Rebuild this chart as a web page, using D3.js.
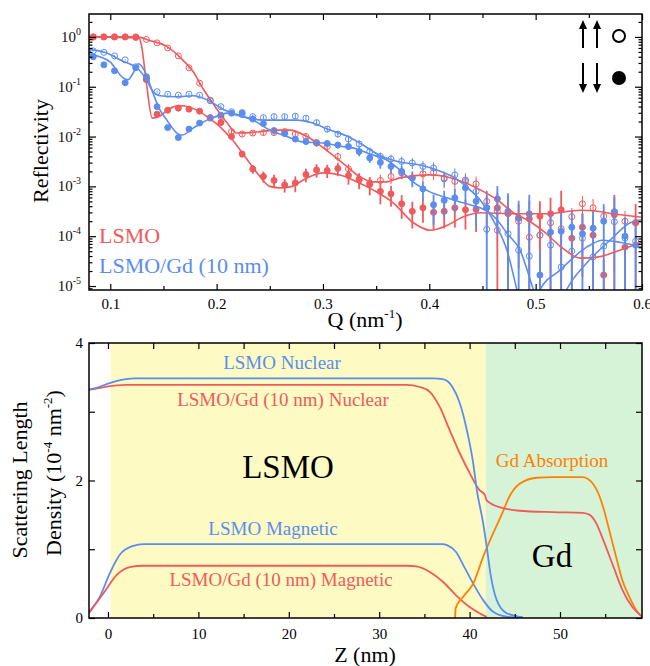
<!DOCTYPE html>
<html>
<head>
<meta charset="utf-8">
<script src="https://cdn.jsdelivr.net/npm/d3@7"></script>
<style>
  body { margin: 0; background: #fff; }
  text { font-family: "Liberation Serif", "DejaVu Serif", serif; }
</style>
</head>
<body>
<div id="chart"></div>
<script>
var font = '"Liberation Serif", "DejaVu Serif", serif';
var red = "#ef5a5c";
var blue = "#5b8def";
var orange = "#ff8000";

// Q of the measured points (nm^-1)
var q = [0.084, 0.094, 0.104, 0.114, 0.124, 0.134, 0.144, 0.154, 0.164, 0.174,
         0.184, 0.194, 0.204, 0.214, 0.224, 0.234, 0.244, 0.254, 0.264, 0.274,
         0.284, 0.294, 0.304, 0.314, 0.324, 0.334, 0.344, 0.354, 0.364, 0.374,
         0.384, 0.394, 0.404, 0.414, 0.424, 0.434, 0.444, 0.454, 0.464, 0.474,
         0.484, 0.494, 0.504, 0.514, 0.524, 0.534, 0.544, 0.554, 0.564, 0.574,
         0.584, 0.594];

// log10 of reflectivity. "up" = open circles, "down" = filled circles
var lsmoUp = [0, 0, 0, 0, 0, -0.05, -0.12, -0.22, -0.38, -0.62,
              -0.93, -1.28, -1.6, -1.9, -1.95, -1.93, -1.92, -1.92, -1.9, -1.95,
              -2.0, -2.12, -2.2, -2.4, -2.65, -2.85, -2.93, -2.88, -2.8, -2.73,
              -2.83, -2.75, -2.72, -2.83, -2.9, -2.87, -2.95, -3.3, -3.88, -3.55,
              -3.7, -4.02, -3.98, -3.73, -3.85, -3.61, -3.35, -3.43, -3.6, -3.51,
              -3.7, -3.73];
var lsmoDown = [0, 0, 0, 0, -0.01, -0.85, -1.55, -1.47, -1.43, -1.45,
                -1.49, -1.62, -1.72, -2.0, -2.35, -2.65, -2.8, -2.88, -2.97, -2.93,
                -2.76, -2.67, -2.68, -2.64, -2.78, -2.87, -2.96, -3.1, -3.15, -3.35,
                -3.5, -3.43, -3.52, -3.5, -3.43, -3.47, -3.46, -3.43, -3.43, -3.53,
                -3.64, -3.65, -3.6, -3.55, -3.47, -4.04, -3.82, -3.98, -4.78, -3.57,
                -4.22, -3.73];
var gdUp = [-0.28, -0.31, -0.38, -0.46, -0.6, -0.86, -1.1, -1.15, -1.17, -1.15,
            -1.17, -1.27, -1.4, -1.5, -1.56, -1.6, -1.62, -1.6, -1.6, -1.59,
            -1.63, -1.72, -1.85, -1.95, -2.05, -2.15, -2.3, -2.4, -2.45, -2.5,
            -2.53, -2.6, -2.63, -2.85, -2.77, -2.9, -3.1, -3.86, -3.5, -3.95,
            -4.28, -4.4, -3.98, -4.18, -4.62, -4.3, -4.04, -4.42, -4.2, -3.71,
            -4.04, -4.1];
var gdDown = [-0.4, -0.56, -0.68, -0.92, -0.62, -0.8, -1.4, -1.82, -2.02, -1.85,
              -1.73, -1.63, -1.57, -1.53, -1.52, -1.65, -1.74, -1.88, -1.94, -2.05,
              -2.1, -2.13, -2.14, -2.17, -2.2, -2.3, -2.43, -2.52, -2.6, -2.7,
              -2.83, -3.05, -3.37, -3.28, -3.23, -3.03, -3.3, -3.43, -3.25, -3.5,
              -3.63, -3.55, -4.78, -3.92, -3.9, -3.82, -3.95, -3.84, -3.7, -3.51,
              -4.0, -4.18];

// relative errors (sigma / R)
var lsmoUpErr = [0.03, 0.03, 0.03, 0.03, 0.03, 0.03, 0.04, 0.05, 0.06, 0.06,
                 0.08, 0.08, 0.1, 0.1, 0.12, 0.12, 0.12, 0.15, 0.15, 0.15,
                 0.15, 0.18, 0.2, 0.2, 0.25, 0.3, 0.3, 0.3, 0.3, 0.25,
                 0.3, 0.3, 0.3, 0.35, 0.35, 0.35, 0.4, 0.5, 0.7, 0.6,
                 0.6, 0.8, 0.7, 0.6, 0.7, 0.5, 0.45, 0.5, 0.5, 0.55,
                 0.6, 0.6];
var lsmoDownErr = [0.03, 0.03, 0.03, 0.03, 0.03, 0.05, 0.08, 0.08, 0.08, 0.08,
                   0.08, 0.1, 0.1, 0.12, 0.15, 0.2, 0.25, 0.3, 0.3, 0.35,
                   0.3, 0.3, 0.3, 0.3, 0.35, 0.35, 0.4, 0.45, 0.45, 0.5,
                   0.55, 0.5, 0.55, 0.55, 0.6, 0.6, 0.65, 0.7, 1.0, 1.2,
                   0.9, 1.3, 1.0, 1.1, 1.4, 1.0, 0.9, 1.3, 1.0, 1.5,
                   1.1, 1.4];
var gdUpErr = [0.03, 0.03, 0.03, 0.03, 0.03, 0.04, 0.05, 0.05, 0.05, 0.06,
               0.06, 0.08, 0.08, 0.08, 0.1, 0.1, 0.1, 0.12, 0.12, 0.12,
               0.12, 0.15, 0.15, 0.15, 0.18, 0.2, 0.2, 0.2, 0.22, 0.25,
               0.25, 0.28, 0.3, 0.35, 0.35, 0.4, 0.45, 1.1, 0.8, 1.2,
               1.3, 1.4, 1.0, 1.2, 1.5, 1.2, 1.0, 1.3, 1.2, 0.9,
               1.1, 1.1];
var gdDownErr = [0.03, 0.03, 0.03, 0.03, 0.03, 0.04, 0.06, 0.08, 0.1, 0.08,
                 0.08, 0.08, 0.08, 0.08, 0.08, 0.1, 0.1, 0.1, 0.12, 0.12,
                 0.12, 0.12, 0.15, 0.15, 0.15, 0.2, 0.2, 0.25, 0.25, 0.3,
                 0.35, 0.4, 0.6, 0.55, 0.5, 0.5, 0.7, 1.2, 0.8, 1.3,
                 1.2, 1.4, 2.0, 1.5, 1.3, 1.2, 1.5, 1.3, 1.2, 1.0,
                 1.4, 1.6];

// fitted curves [Q, log10 R]
var fitLsmoUp = [[0.08, 0], [0.125, 0], [0.137, -0.07], [0.153, -0.19], [0.168, -0.46],
  [0.178, -0.7], [0.187, -1.03], [0.197, -1.35], [0.21, -1.73], [0.219, -1.93],
  [0.238, -1.91], [0.257, -1.87], [0.269, -1.87], [0.285, -2.0], [0.297, -2.17],
  [0.309, -2.37], [0.323, -2.61], [0.335, -2.81], [0.347, -2.91], [0.36, -2.91],
  [0.372, -2.83], [0.4, -2.77], [0.417, -2.81], [0.432, -2.91], [0.448, -3.07],
  [0.464, -3.27], [0.479, -3.53], [0.495, -3.71], [0.509, -3.93], [0.523, -4.2],
  [0.542, -4.44], [0.558, -4.42], [0.579, -4.28], [0.6, -4.12]];
var fitLsmoDown = [[0.08, 0], [0.127, -0.02], [0.1295, -0.19], [0.134, -0.93], [0.1395, -1.63],
  [0.146, -1.6], [0.155, -1.45], [0.165, -1.38], [0.175, -1.41], [0.184, -1.5],
  [0.191, -1.6], [0.203, -1.8], [0.215, -2.07], [0.229, -2.47], [0.241, -2.81],
  [0.25, -3.0], [0.26, -3.03], [0.269, -3.01], [0.285, -2.83], [0.3, -2.73],
  [0.316, -2.77], [0.328, -2.87], [0.347, -3.07], [0.366, -3.33], [0.385, -3.73],
  [0.401, -3.88], [0.417, -3.78], [0.432, -3.61], [0.448, -3.53], [0.479, -3.55],
  [0.511, -3.55], [0.542, -3.48], [0.558, -3.5], [0.573, -3.55], [0.6, -3.62]];
var fitGdUp = [[0.08, -0.25], [0.096, -0.32], [0.111, -0.48], [0.127, -0.66], [0.134, -0.86],
  [0.139, -1.06], [0.147, -1.18], [0.163, -1.2], [0.178, -1.18], [0.191, -1.26],
  [0.206, -1.45], [0.221, -1.57], [0.2436, -1.67], [0.2756, -1.67], [0.2906, -1.73],
  [0.3066, -1.87], [0.3226, -1.99], [0.3376, -2.17], [0.3536, -2.38], [0.3724, -2.51],
  [0.3912, -2.57], [0.4072, -2.67], [0.4223, -2.81], [0.4383, -3.07], [0.4477, -3.27],
  [0.4542, -3.47], [0.4636, -3.82], [0.473, -4.28], [0.4824, -5.08], [0.493, -6],
  [0.504, -5.08], [0.523, -4.68], [0.548, -4.22], [0.563, -4.08], [0.579, -4.12], [0.6, -4.22]];
var fitGdDown = [[0.08, -0.34], [0.0997, -0.5], [0.112, -0.82], [0.1167, -0.86], [0.1214, -0.73],
  [0.1265, -0.54], [0.1327, -0.7], [0.1402, -1.13], [0.1468, -1.47], [0.1533, -1.67],
  [0.1627, -1.93], [0.1675, -1.97], [0.178, -1.83], [0.191, -1.67], [0.2032, -1.57],
  [0.21, -1.53], [0.2192, -1.57], [0.2342, -1.67], [0.25, -1.87], [0.266, -2.0],
  [0.281, -2.11], [0.3, -2.13], [0.316, -2.19], [0.332, -2.25], [0.344, -2.35],
  [0.36, -2.47], [0.3724, -2.67], [0.3847, -2.91], [0.4006, -3.11], [0.4166, -3.23],
  [0.4317, -3.33], [0.4477, -3.43], [0.457, -3.53], [0.4636, -3.67], [0.473, -3.94],
  [0.4853, -4.28], [0.498, -5.08], [0.513, -6], [0.529, -5.08], [0.548, -4.54],
  [0.57, -4.08], [0.589, -3.73], [0.6, -3.67]];

var qTicks = [0.1, 0.2, 0.3, 0.4, 0.5, 0.6];
var qMinor = [0.15, 0.25, 0.35, 0.45, 0.55];
var rExp = [0, -1, -2, -3, -4, -5];

// depth profiles [z (nm), SLD (1e-4 nm^-2)]
var lsmoNuclear = [[-2.1, 3.32], [-1, 3.36], [0, 3.41], [1, 3.45], [2, 3.475], [3, 3.485],
  [36, 3.485], [37, 3.475], [37.6, 3.44], [38.1, 3.36], [38.9, 3.13], [39.7, 2.73],
  [40.4, 2.25], [40.8, 1.86], [41.5, 1.38], [41.9, 1.03], [42.3, 0.65], [43, 0.26],
  [44.1, 0.07], [45.9, 0.01]];
var gdNuclear = [[-2.1, 3.32], [-1, 3.345], [0, 3.37], [1, 3.385], [2, 3.39], [33, 3.39],
  [34.5, 3.36], [35.6, 3.29], [36.7, 3.07], [37.8, 2.73], [38.9, 2.4], [40, 2.11],
  [41.1, 1.86], [41.7, 1.79], [41.85, 1.72], [42.3, 1.67], [43.7, 1.6], [45.5, 1.56],
  [49.2, 1.54], [52.5, 1.53], [53.3, 1.5], [54, 1.38], [54.8, 1.13], [55.9, 0.75],
  [56.9, 0.41], [58, 0.16], [59.07, 0.02]];
var lsmoMagnetic = [[-2.1, 0.09], [-0.9, 0.31], [0.2, 0.65], [1.3, 0.92], [2.8, 1.05],
  [3.9, 1.075], [37, 1.075], [37.5, 1.06], [38.5, 0.96], [39.3, 0.77], [40.4, 0.5],
  [41.5, 0.26], [42.6, 0.09], [44.1, 0.02], [45.9, 0.005]];
var gdMagnetic = [[-2.1, 0.07], [-0.5, 0.36], [1.0, 0.63], [2.4, 0.74], [3.9, 0.76],
  [33, 0.76], [34.1, 0.75], [35.6, 0.67], [37.1, 0.52], [38.5, 0.33], [40, 0.16],
  [41.1, 0.07], [41.9, 0.015]];
var gdAbsorption = [[38.4, 0], [38.45, 0.14], [39.3, 0.31], [40.4, 0.5], [41.5, 0.89],
  [42.6, 1.23], [43.7, 1.55], [44.3, 1.74], [45.5, 1.95], [47.4, 2.04], [49.2, 2.05],
  [52.5, 2.05], [53.6, 1.96], [54.4, 1.76], [54.8, 1.6], [55.5, 1.25], [56.2, 0.89],
  [56.9, 0.55], [57.7, 0.3], [58.4, 0.12], [59.07, 0.02]];
var layers = [[0.3, 41.8, "#fdfac4"], [41.8, 59.07, "#d6f3d7"]];
var zTicks = [0, 10, 20, 30, 40, 50];
var zMinor = [5, 15, 25, 35, 45, 55];
var sldTicks = [0, 2, 4];
var sldMinor = [1, 3];

var svg = d3.select("#chart").append("svg")
    .attr("width", 650)
    .attr("height", 666);

function addAxis(axis, tx, ty) {
    var g = svg.append("g")
        .attr("transform", "translate(" + tx + "," + ty + ")")
        .call(axis);
    g.select(".domain").remove();
    g.attr("font-family", font).attr("font-size", 15).attr("color", "#000");
    g.selectAll("line").attr("stroke-width", 1.2);
    return g;
}

// ---------- top panel: reflectivity ----------
var xQ = d3.scaleLinear().domain([0.08, 0.6]).range([89, 642]);
var yR = d3.scaleLog().domain([Math.pow(10, -5.08), Math.pow(10, 0.46)]).range([290, 14]);

svg.append("clipPath").attr("id", "clipTop").append("rect")
    .attr("x", 89).attr("y", 14).attr("width", 553).attr("height", 276);

var top_g = svg.append("g").attr("clip-path", "url(#clipTop)");

function drawPoints(vals, errs, color, open) {
    var bottom = yR.range()[0];
    vals.forEach(function(v, i) {
        var r = Math.pow(10, v);
        var hi = r * (1 + errs[i]);
        var lo = r * (1 - errs[i]);
        var yLo = (lo <= yR.domain()[0]) ? bottom + 2 : yR(lo);
        top_g.append("line")
            .attr("x1", xQ(q[i])).attr("x2", xQ(q[i]))
            .attr("y1", yR(hi)).attr("y2", yLo)
            .attr("stroke", color)
            .attr("stroke-width", open ? 1 : 1.8);
        top_g.append("circle")
            .attr("cx", xQ(q[i]))
            .attr("cy", yR(r))
            .attr("r", 3)
            .attr("fill", open ? "none" : color)
            .attr("stroke", color)
            .attr("stroke-width", 1);
    });
}

drawPoints(lsmoUp, lsmoUpErr, red, true);
drawPoints(gdUp, gdUpErr, blue, true);
drawPoints(lsmoDown, lsmoDownErr, red, false);
drawPoints(gdDown, gdDownErr, blue, false);

var fitLine = d3.line()
    .x(function(d) { return xQ(d[0]); })
    .y(function(d) { return yR(Math.pow(10, d[1])); })
    .curve(d3.curveMonotoneX);

[[fitLsmoUp, red], [fitLsmoDown, red], [fitGdUp, blue], [fitGdDown, blue]].forEach(function(f) {
    top_g.append("path")
        .attr("d", fitLine(f[0]))
        .attr("fill", "none")
        .attr("stroke", f[1])
        .attr("stroke-width", 1.6);
});

// ticks
addAxis(d3.axisBottom(xQ).tickValues(qTicks).tickSize(-6).tickPadding(8)
    .tickFormat(d3.format(".1f")), 0, 290);
addAxis(d3.axisBottom(xQ).tickValues(qMinor).tickSize(-4).tickFormat(""), 0, 290);
addAxis(d3.axisTop(xQ).tickValues(qTicks).tickSize(-6).tickFormat(""), 0, 14);
addAxis(d3.axisTop(xQ).tickValues(qMinor).tickSize(-4).tickFormat(""), 0, 14);

var majorR = rExp.map(function(e) { return Math.pow(10, e); });
var minorR = yR.ticks().filter(function(v) {
    return Math.abs(Math.log10(v) - Math.round(Math.log10(v))) > 1e-6;
});
addAxis(d3.axisLeft(yR).tickValues(majorR).tickSize(-7).tickFormat(""), 89, 0);
addAxis(d3.axisLeft(yR).tickValues(minorR).tickSize(-3.5).tickFormat(""), 89, 0);
addAxis(d3.axisRight(yR).tickValues(majorR).tickSize(-7).tickFormat(""), 642, 0);
addAxis(d3.axisRight(yR).tickValues(minorR).tickSize(-3.5).tickFormat(""), 642, 0);

rExp.forEach(function(e) {
    var t = svg.append("text")
        .attr("x", 81)
        .attr("y", yR(Math.pow(10, e)) + 5)
        .attr("text-anchor", "end")
        .attr("font-size", 15)
        .attr("fill", "#111")
        .text("10");
    t.append("tspan")
        .attr("dy", -7)
        .attr("font-size", 10)
        .text(e);
});

svg.append("rect")
    .attr("x", 89).attr("y", 14).attr("width", 553).attr("height", 276)
    .attr("fill", "none").attr("stroke", "#000").attr("stroke-width", 1.5);

// axis titles
svg.append("text")
    .attr("transform", "translate(48,151) rotate(-90)")
    .attr("text-anchor", "middle")
    .attr("font-size", 22)
    .text("Reflectivity");

var qTitle = svg.append("text")
    .attr("x", 365).attr("y", 327)
    .attr("text-anchor", "middle")
    .attr("font-size", 22)
    .text("Q (nm");
qTitle.append("tspan").attr("dy", -9).attr("font-size", 13).text("-1");
qTitle.append("tspan").attr("dy", 9).text(")");

// sample legend
svg.append("text").attr("x", 99).attr("y", 243).attr("font-size", 22)
    .attr("fill", red).text("LSMO");
svg.append("text").attr("x", 99).attr("y", 273).attr("font-size", 22)
    .attr("fill", blue).text("LSMO/Gd (10 nm)");

// spin legend
function arrow(x, yTail, yHead) {
    var dir = yHead < yTail ? 1 : -1;
    svg.append("line")
        .attr("x1", x).attr("x2", x)
        .attr("y1", yTail).attr("y2", yHead + dir * 6)
        .attr("stroke", "#000").attr("stroke-width", 2);
    svg.append("path")
        .attr("d", "M" + (x - 4) + "," + (yHead + dir * 9) + "L" + x + "," + yHead +
              "L" + (x + 4) + "," + (yHead + dir * 9) + "Z")
        .attr("fill", "#000");
}
arrow(583, 48, 20);
arrow(597, 48, 20);
arrow(583, 63, 93);
arrow(597, 63, 93);
svg.append("circle").attr("cx", 619).attr("cy", 36).attr("r", 6)
    .attr("fill", "none").attr("stroke", "#000").attr("stroke-width", 2);
svg.append("circle").attr("cx", 619).attr("cy", 78).attr("r", 7)
    .attr("fill", "#000");

// ---------- bottom panel: SLD profiles ----------
var xZ = d3.scaleLinear().domain([-2.1, 59.07]).range([89, 642]);
var yS = d3.scaleLinear().domain([0, 4]).range([618, 343]);

layers.forEach(function(l) {
    svg.append("rect")
        .attr("x", xZ(l[0]))
        .attr("y", yS(4))
        .attr("width", xZ(l[1]) - xZ(l[0]))
        .attr("height", yS(0) - yS(4))
        .attr("fill", l[2]);
});

svg.append("clipPath").attr("id", "clipBottom").append("rect")
    .attr("x", 89).attr("y", 343).attr("width", 553).attr("height", 275);
var bot_g = svg.append("g").attr("clip-path", "url(#clipBottom)");

var sldLine = d3.line()
    .x(function(d) { return xZ(d[0]); })
    .y(function(d) { return yS(d[1]); })
    .curve(d3.curveMonotoneX);

[[lsmoMagnetic, blue], [gdMagnetic, red], [gdAbsorption, orange],
 [gdNuclear, red], [lsmoNuclear, blue]].forEach(function(p) {
    bot_g.append("path")
        .attr("d", sldLine(p[0]))
        .attr("fill", "none")
        .attr("stroke", p[1])
        .attr("stroke-width", 1.8);
});

addAxis(d3.axisBottom(xZ).tickValues(zTicks).tickSize(-6).tickPadding(10)
    .tickFormat(d3.format("d")), 0, 618);
addAxis(d3.axisBottom(xZ).tickValues(zMinor).tickSize(-4).tickFormat(""), 0, 618);
addAxis(d3.axisTop(xZ).tickValues(zTicks.concat(zMinor)).tickSize(-6).tickFormat(""), 0, 343);
addAxis(d3.axisLeft(yS).tickValues(sldTicks).tickSize(-6).tickPadding(6)
    .tickFormat(d3.format("d")), 89, 0);
addAxis(d3.axisLeft(yS).tickValues(sldMinor).tickSize(-6).tickFormat(""), 89, 0);
addAxis(d3.axisRight(yS).tickValues(sldTicks.concat(sldMinor)).tickSize(-6).tickFormat(""), 642, 0);

svg.append("rect")
    .attr("x", 89).attr("y", 343).attr("width", 553).attr("height", 275)
    .attr("fill", "none").attr("stroke", "#000").attr("stroke-width", 1.5);

// profile labels
svg.append("text").attr("x", 282).attr("y", 369).attr("text-anchor", "middle")
    .attr("font-size", 19).attr("fill", blue).text("LSMO Nuclear");
svg.append("text").attr("x", 283).attr("y", 406).attr("text-anchor", "middle")
    .attr("font-size", 19).attr("fill", red).text("LSMO/Gd (10 nm) Nuclear");
svg.append("text").attr("x", 288).attr("y", 478).attr("text-anchor", "middle")
    .attr("font-size", 33).attr("fill", "#000").text("LSMO");
svg.append("text").attr("x", 552).attr("y", 467).attr("text-anchor", "middle")
    .attr("font-size", 19).attr("fill", orange).text("Gd Absorption");
svg.append("text").attr("x", 273).attr("y", 535).attr("text-anchor", "middle")
    .attr("font-size", 19).attr("fill", blue).text("LSMO Magnetic");
svg.append("text").attr("x", 281).attr("y", 586).attr("text-anchor", "middle")
    .attr("font-size", 19).attr("fill", red).text("LSMO/Gd (10 nm) Magnetic");
svg.append("text").attr("x", 552).attr("y", 567).attr("text-anchor", "middle")
    .attr("font-size", 33).attr("fill", "#000").text("Gd");

svg.append("text")
    .attr("x", 365).attr("y", 662)
    .attr("text-anchor", "middle")
    .attr("font-size", 22)
    .text("Z (nm)");

svg.append("text")
    .attr("transform", "translate(27,480) rotate(-90)")
    .attr("text-anchor", "middle")
    .attr("font-size", 22)
    .text("Scattering Length");
var dens = svg.append("text")
    .attr("transform", "translate(61,473) rotate(-90)")
    .attr("text-anchor", "middle")
    .attr("font-size", 22)
    .text("Density (10");
dens.append("tspan").attr("dy", -9).attr("font-size", 13).text("-4");
dens.append("tspan").attr("dy", 9).text(" nm");
dens.append("tspan").attr("dy", -9).attr("font-size", 13).text("-2");
dens.append("tspan").attr("dy", 9).text(")");
</script>
</body>
</html>
